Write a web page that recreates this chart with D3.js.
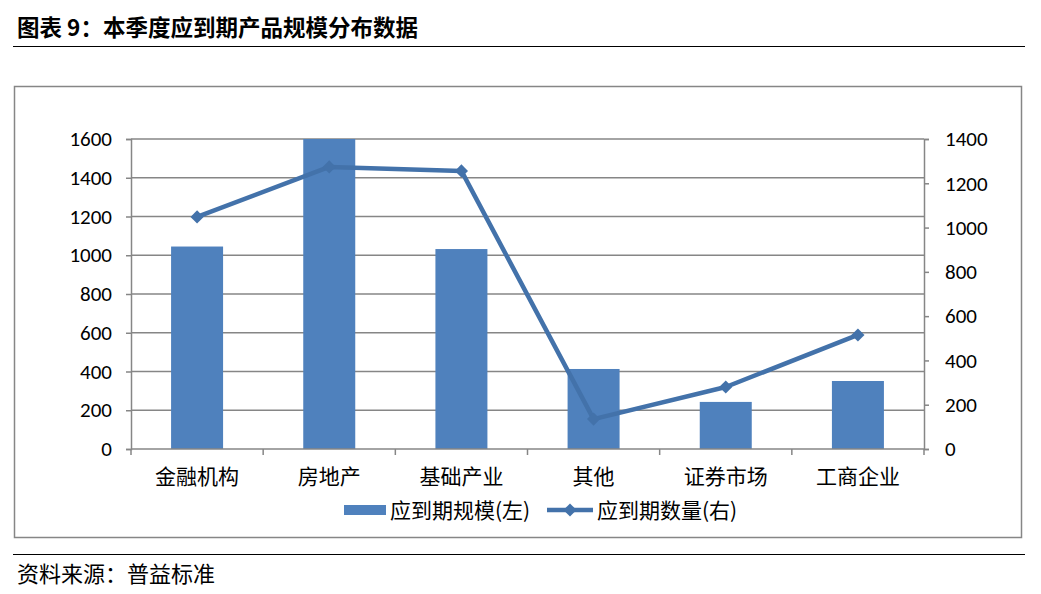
<!DOCTYPE html>
<html><head><meta charset="utf-8">
<script src="https://cdn.jsdelivr.net/npm/d3@7/dist/d3.min.js"></script>
<style>body{margin:0;background:#fff}svg{display:block}</style>
</head><body>
<svg id="c" width="1041" height="594"></svg>
<script>
const categories = ["金融机构","房地产","基础产业","其他","证券市场","工商企业"];
const scaleValues = [1045, 1600, 1032, 413, 243, 351];   // 应到期规模(左)
const countValues = [1048, 1274, 1256, 135, 280, 515];   // 应到期数量(右)
const leftTicks = [0,200,400,600,800,1000,1200,1400,1600];
const rightTicks = [0,200,400,600,800,1000,1200,1400];
const title = "图表 9：本季度应到期产品规模分布数据";
const source = "资料来源：普益标准";
const legendLabels = ["应到期规模(左)","应到期数量(右)"];

const svg = d3.select("#c");
const cjk = "'Noto Sans CJK SC','Noto Sans',sans-serif";
const num = "'Carlito','Liberation Sans','DejaVu Sans',sans-serif";
const grey = "#868686", barC = "#4F81BD", lineC = "#4372AA";

svg.append("text").attr("x",17).attr("y",36).text(title)
  .attr("font-family",cjk).attr("font-weight","bold").attr("font-size",22.5).attr("fill","#000");
svg.append("line").attr("x1",13).attr("x2",1025).attr("y1",46.5).attr("y2",46.5).attr("stroke","#000").attr("stroke-width",1.2);
svg.append("line").attr("x1",13).attr("x2",1025).attr("y1",554.5).attr("y2",554.5).attr("stroke","#000").attr("stroke-width",1.2);
svg.append("text").attr("x",17).attr("y",582).text(source)
  .attr("font-family",cjk).attr("font-size",22).attr("fill","#000");

svg.append("rect").attr("x",14.5).attr("y",86.5).attr("width",1007).attr("height",451)
  .attr("fill","#fff").attr("stroke",grey).attr("stroke-width",1.5);

const L = 131, R = 924, T = 139, B = 449;
const x = d3.scaleBand().domain(categories).range([L,R]).paddingInner(0).paddingOuter(0);
const yL = d3.scaleLinear().domain([0,1600]).range([B,T]);
const yR = d3.scaleLinear().domain([0,1400]).range([B,T]);

// gridlines
svg.append("g").selectAll("line").data(leftTicks.filter(d=>d>0)).join("line")
  .attr("x1",L).attr("x2",R).attr("y1",d=>yL(d)).attr("y2",d=>yL(d))
  .attr("stroke",grey).attr("stroke-width",1.5);

// bars
const bw = 52;
svg.append("g").selectAll("rect").data(categories).join("rect")
  .attr("x",d=>x(d)+x.bandwidth()/2-bw/2).attr("width",bw)
  .attr("y",(d,i)=>yL(scaleValues[i])).attr("height",(d,i)=>B-yL(scaleValues[i]))
  .attr("fill",barC);

// axes
const axL = svg.append("g").attr("transform",`translate(${L},0)`)
  .call(d3.axisLeft(yL).tickValues(leftTicks).tickSize(5).tickPadding(14).tickFormat(d3.format("d")));
const axR = svg.append("g").attr("transform",`translate(${R},0)`)
  .call(d3.axisRight(yR).tickValues(rightTicks).tickSize(5).tickPadding(16).tickFormat(d3.format("d")));
const xb = d3.scaleLinear().domain([0,6]).range([L,R]);
const axB = svg.append("g").attr("transform",`translate(0,${B})`)
  .call(d3.axisBottom(x).tickSize(0).tickPadding(22));
svg.append("g").selectAll("line").data(d3.range(7)).join("line")
  .attr("x1",d=>xb(d)).attr("x2",d=>xb(d)).attr("y1",B).attr("y2",B+6)
  .attr("stroke",grey).attr("stroke-width",1.5);
[axL,axR,axB].forEach(a=>{
  a.select(".domain").attr("stroke",grey).attr("stroke-width",1.5);
  a.selectAll(".tick line").attr("stroke",grey).attr("stroke-width",1.5);
  a.selectAll("text").attr("fill","#000");
});
axL.selectAll("text").attr("font-family",num).attr("font-size",21);
axR.selectAll("text").attr("font-family",num).attr("font-size",21);
axB.selectAll("text").attr("font-family",cjk).attr("font-size",21).attr("dy","0.6em");
axB.select(".domain").attr("d",`M${L},0H${R}`);

// line
const line = d3.line().x((d,i)=>x(categories[i])+x.bandwidth()/2).y(d=>yR(d));
svg.append("path").datum(countValues).attr("d",line).attr("fill","none")
  .attr("stroke",lineC).attr("stroke-width",4.5).attr("stroke-linejoin","round");
const diamond = d3.symbol().type(d3.symbolDiamond2).size(110);
svg.append("g").selectAll("path").data(countValues).join("path")
  .attr("transform",(d,i)=>`translate(${x(categories[i])+x.bandwidth()/2},${yR(d)})`)
  .attr("d",diamond).attr("fill",lineC);

// legend
const lg = svg.append("g");
lg.append("rect").attr("x",344).attr("y",505).attr("width",42).attr("height",10).attr("fill",barC);
lg.append("text").attr("x",390).attr("y",518).text(legendLabels[0])
  .attr("font-family",cjk).attr("font-size",21).attr("fill","#000");
lg.append("line").attr("x1",547).attr("x2",593).attr("y1",510).attr("y2",510).attr("stroke",lineC).attr("stroke-width",4.5);
lg.append("path").attr("transform","translate(570,510)").attr("d",diamond).attr("fill",lineC);
lg.append("text").attr("x",597).attr("y",518).text(legendLabels[1])
  .attr("font-family",cjk).attr("font-size",21).attr("fill","#000");
</script>
</body></html>
